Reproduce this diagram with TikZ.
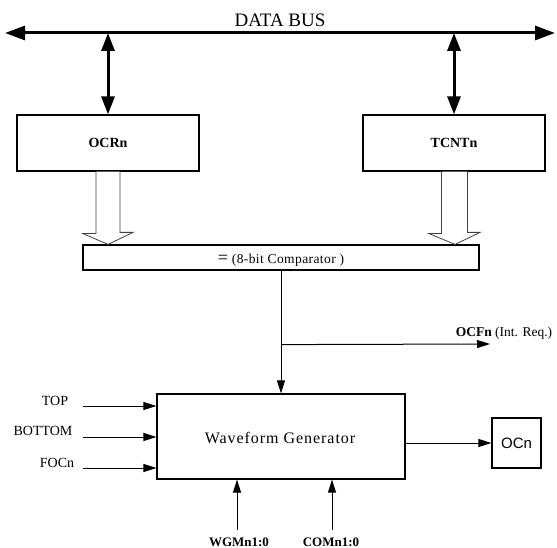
\documentclass[tikz,border=0pt]{standalone}
\usepackage{fontspec}
\setmainfont{Liberation Serif}
\newfontfamily\arialf{Liberation Sans}
\usetikzlibrary{arrows.meta}
\begin{document}
\begin{tikzpicture}[x=1pt,y=-1pt,
  boxst/.style={draw,line width=1.2pt,inner sep=0pt,fill=white},
  busarr/.style={line width=3pt,{Triangle[length=20pt,width=14pt]}-{Triangle[length=20pt,width=14pt]}},
  dblarr/.style={line width=3pt,{Triangle[length=18pt,width=13pt]}-{Triangle[length=18pt,width=13pt]}},
  arr/.style={line width=1pt,-{Triangle[length=13pt,width=8pt]}},
  hollow/.style={draw=black!75,line width=0.8pt,fill=white,line join=miter},
  lbl/.style={inner sep=0pt,font=\fontsize{14pt}{16pt}\selectfont}
]
\useasboundingbox (0,0) rectangle (557,548);
% data bus
\coordinate (busL) at (5,33);
\coordinate (busR) at (555,33);
\draw[busarr] (busL) -- (busR);
\node[inner sep=0pt,font=\fontsize{19pt}{21pt}\selectfont] (buslbl) at (280,20) {DATA BUS};
% registers
\node[boxst,minimum width=182pt,minimum height=56pt,font=\bfseries\fontsize{14pt}{16pt}\selectfont] (ocr) at (108,143) {OCRn};
\node[boxst,minimum width=182pt,minimum height=56pt,font=\bfseries\fontsize{14pt}{16pt}\selectfont] (tcnt) at (454,143) {TCNTn};
\draw[dblarr] (ocr.north) -- (ocr.north |- busL);
\draw[dblarr] (tcnt.north) -- (tcnt.north |- busL);
% comparator
\node[boxst,minimum width=396pt,minimum height=25pt] (comp) at (281,257.5) {};
\node[inner sep=0pt,anchor=base,font=\fontsize{13.5pt}{15pt}\selectfont\addfontfeature{LetterSpace=3}] (comptxt) at (281,264) {{\fontsize{18pt}{18pt}\selectfont=} (8-bit Comparator )};
% hollow arrows
\draw[hollow] ([xshift=-12pt]ocr.south) -- ++(0,62) -- ++(-13,0) -- (ocr.south |- comp.north) -- ++(25,-12) -- ++(-13,0) -- ([xshift=12pt]ocr.south);
\draw[hollow] ([xshift=-12.5pt]tcnt.south) -- ++(0,62) -- ++(-12.5,0) -- ([xshift=1pt]tcnt.south |- comp.north) -- ++(25,-12) -- ++(-12.5,0) -- ([xshift=13.5pt]tcnt.south);
% waveform generator
\node[boxst,minimum width=248pt,minimum height=85pt] (wave) at (281,436.5) {};
\node[inner sep=0pt,font=\fontsize{16pt}{18pt}\selectfont\addfontfeature{LetterSpace=6}] (wavetxt) at (280,438) {Waveform Generator};
\draw[arr] (comp.south) -- (wave.north);
\path (comp.south) ++(0,74) coordinate (br);
\coordinate (ocfend) at (490,344);
\draw[arr] (br) -- (ocfend);
\node[inner sep=0pt,font=\fontsize{13.5pt}{15pt}\selectfont] (ocflbl) at (504,333) {\textbf{OCFn} (Int. Req.)};
% inputs
\node[lbl] (toplbl) at (55,401) {TOP};
\node[lbl] (botlbl) at (43,431) {BOTTOM};
\node[lbl] (foclbl) at (57,463) {FOCn};
\coordinate (topin) at (83,406);
\coordinate (botin) at (83,437);
\coordinate (focin) at (83,468);
\draw[arr] (topin) -- (topin -| wave.west);
\draw[arr] (botin) -- (botin -| wave.west);
\draw[arr] (focin) -- (focin -| wave.west);
% output
\node[boxst,minimum width=49pt,minimum height=50pt,font=\arialf\fontsize{15pt}{17pt}\selectfont] (ocn) at (516.5,443) {OCn};
\draw[arr] (wave.east |- ocn.west) -- (ocn.west);
% bottom inputs
\coordinate (wgmin) at (237,530);
\coordinate (comin) at (332,530);
\draw[arr] (wgmin) -- (wgmin |- wave.south);
\draw[arr] (comin) -- (comin |- wave.south);
\node[inner sep=0pt,anchor=base,font=\bfseries\fontsize{13pt}{15pt}\selectfont] (wgmlbl) at (239,546) {WGMn1:0};
\node[inner sep=0pt,anchor=base,font=\bfseries\fontsize{13pt}{15pt}\selectfont] (comlbl) at (331,546) {COMn1:0};
\end{tikzpicture}
\end{document}
